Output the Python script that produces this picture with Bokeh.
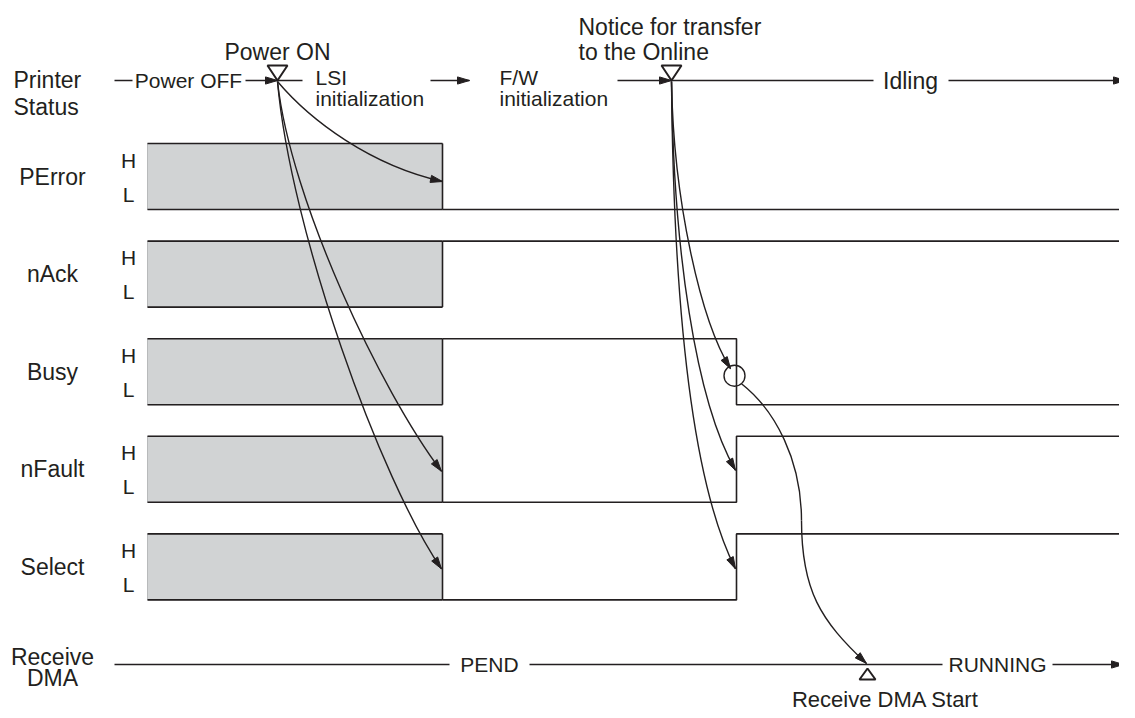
import math
from bokeh.plotting import figure
from bokeh.models import Range1d
from bokeh.core.properties import value
from bokeh.embed import file_html
from bokeh.resources import INLINE

# ---------------- data ----------------
signals = ["PError", "nAck", "Busy", "nFault", "Select"]
state_after_init = ["L", "H", "H", "L", "L"]      # level after LSI init
state_after_online = ["L", "H", "L", "H", "H"]    # level after "online" notice

# event times (time axis, arbitrary units)
t_trace_start = 147
t_power_on = 277
t_lsi_done = 442
t_fw_start = 469
t_online = 671
t_signals_change = 736
t_dma_start = 867
t_end = 1128

status_phases = ["Power OFF", "LSI", "initialization", "F/W", "initialization", "Idling"]
dma_phases = ["PEND", "RUNNING"]
event_labels = ["Power ON", "Notice for transfer", "to the Online", "Receive DMA Start"]

# ---------------- styling / layout ----------------
INK = "#231f20"
GRAY = "#d1d3d4"
FONT = value("Liberation Sans")
BIG = "23px"
SMALL = "21px"

STATUS_Y = 80
ROW0 = 143
ROW_STEP = 97.6
ROW_H = 66
DMA_Y = 664

p = figure(width=1119, height=710, output_backend="svg", toolbar_location=None,
           x_range=Range1d(0, 1119), y_range=Range1d(710, 0),
           x_axis_type=None, y_axis_type=None, min_border=0,
           outline_line_color=None, background_fill_color="white")
p.grid.visible = False


def txt(x, y, s, size=BIG, align="left", base="alphabetic"):
    p.text(x=[x], y=[y], text=[s], text_font=FONT, text_font_size=size,
           text_align=align, text_baseline=base, text_color=INK)


def head(tipx, tipy, fromx, fromy, L=12, W=3.6):
    dx, dy = tipx - fromx, tipy - fromy
    n = math.hypot(dx, dy)
    ux, uy = dx / n, dy / n
    bx, by = tipx - ux * L, tipy - uy * L
    p.patch([tipx, bx - uy * W, bx + uy * W], [tipy, by + ux * W, by - ux * W],
            fill_color=INK, line_color=INK, line_width=1)


def hline(x0, x1, y, arrow=False, lw=1.6):
    p.line([x0, x1], [y, y], line_color=INK, line_width=lw)
    if arrow:
        head(x1, y, x0, y)


def curve(s, c0, c1, e, arrow=True, lw=1.4):
    p.bezier(x0=[s[0]], y0=[s[1]], x1=[e[0]], y1=[e[1]],
             cx0=[c0[0]], cy0=[c0[1]], cx1=[c1[0]], cy1=[c1[1]],
             line_color=INK, line_width=lw)
    if arrow:
        head(e[0], e[1], c1[0], c1[1])


def tri_down(x, y):
    p.patch([x - 10, x + 10, x], [y - 15, y - 15, y], fill_color="white",
            line_color=INK, line_width=2)


def tri_up(x, y):
    p.patch([x - 8, x + 8, x], [y + 11, y + 11, y], fill_color="white",
            line_color=INK, line_width=2)


# ---------------- Printer status row ----------------
txt(13, 79, "Printer")
txt(13, 106, "Status")
hline(114, 132, STATUS_Y)
txt(188, STATUS_Y, status_phases[0], SMALL, "center", "middle")
hline(245, t_power_on, STATUS_Y, arrow=True)
hline(t_power_on, 302, STATUS_Y)
txt(315, 77, status_phases[1], SMALL)
txt(315, 98, status_phases[2], SMALL)
hline(430, t_fw_start, STATUS_Y, arrow=True)
txt(499, 77, status_phases[3], SMALL)
txt(499, 98, status_phases[4], SMALL)
hline(617, t_online, STATUS_Y, arrow=True)
hline(t_online, 873, STATUS_Y)
txt(910, STATUS_Y, status_phases[5], BIG, "center", "middle")
hline(948, 1125, STATUS_Y, arrow=True)

txt(t_power_on, 51, event_labels[0], BIG, "center")
txt(578, 26, event_labels[1])
txt(578, 51, event_labels[2])

# ---------------- signal rows ----------------
for i, name in enumerate(signals):
    top = ROW0 + i * ROW_STEP
    bot = top + ROW_H
    lvl = {"H": top, "L": bot}
    # unknown-state box
    p.quad(left=[t_trace_start], right=[t_lsi_done], top=[top], bottom=[bot],
           fill_color=GRAY, line_color="#b8babb", line_width=1)
    p.multi_line(xs=[[t_trace_start, t_lsi_done], [t_trace_start, t_lsi_done],
                     [t_lsi_done, t_lsi_done]],
                 ys=[[top, top], [bot, bot], [top, bot]],
                 line_color=INK, line_width=1.6)
    # waveform
    y1 = lvl[state_after_init[i]]
    y2 = lvl[state_after_online[i]]
    p.line([t_lsi_done, t_signals_change, t_signals_change, t_end],
           [y1, y1, y2, y2], line_color=INK, line_width=1.6)
    # labels
    txt(52, (top + bot) / 2, name, BIG, "center", "middle")
    txt(128, top + 16.5, "H", SMALL, "center", "middle")
    txt(128, bot - 15.5, "L", SMALL, "center", "middle")

# ---------------- Receive DMA row ----------------
txt(52, 656, "Receive", BIG, "center")
txt(52, 677, "DMA", BIG, "center")
hline(114, 449, DMA_Y)
txt(489, DMA_Y, dma_phases[0], SMALL, "center", "middle")
hline(529, 942, DMA_Y)
txt(997, DMA_Y, dma_phases[1], SMALL, "center", "middle")
hline(1052, 1123, DMA_Y, arrow=True)
tri_up(t_dma_start, DMA_Y + 4)
txt(885, 699, event_labels[3], "22px", "center")

# ---------------- causality arrows ----------------
busy_y = ROW0 + 2 * ROW_STEP
pe_top = ROW0
sx, sy = t_power_on, STATUS_Y + 1
curve((sx, sy), (310, 120), (370, 165), (t_lsi_done, pe_top + 38))
curve((sx, sy), (290, 200), (380, 390), (t_lsi_done - 1, ROW0 + 3 * ROW_STEP + 35))
curve((sx, sy), (290, 230), (380, 480), (t_lsi_done - 1, ROW0 + 4 * ROW_STEP + 35))

ox, oy = t_online, STATUS_Y + 1
curve((ox, oy), (673, 200), (700, 320), (t_signals_change - 6, busy_y + 30))
curve((ox, oy), (673, 250), (695, 400), (t_signals_change - 1, ROW0 + 3 * ROW_STEP + 34))
curve((ox, oy), (673, 300), (690, 480), (t_signals_change - 1, ROW0 + 4 * ROW_STEP + 35))

# circle on Busy falling edge
p.scatter(x=[t_signals_change - 2], y=[busy_y + 37], marker="circle", size=21,
          fill_color=None, line_color=INK, line_width=1.4)

# Busy -> Receive DMA start
curve((741, busy_y + 45), (775, 410), (801, 460), (801, 520), arrow=False)
curve((801, 520), (801, 590), (820, 620), (t_dma_start - 1, DMA_Y - 1))

# redraw event triangles on top
tri_down(t_power_on, STATUS_Y)
tri_down(t_online, STATUS_Y)

open("out.html", "w").write(file_html(p, INLINE))
